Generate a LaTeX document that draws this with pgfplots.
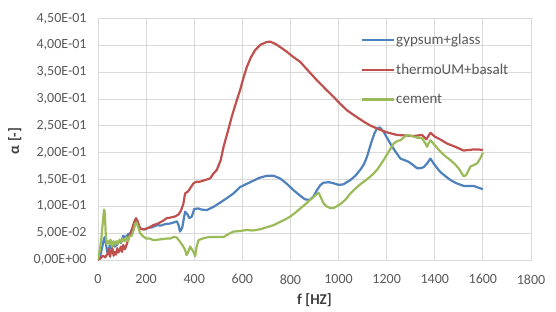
\documentclass[border=0pt]{standalone}
\usepackage{fontspec}
\setmainfont{Carlito}
\usepackage{pgfplots}
\pgfplotsset{compat=1.18}
\definecolor{xblue}{HTML}{4F81BD}
\definecolor{xred}{HTML}{C0504D}
\definecolor{xgreen}{HTML}{9BBB59}
\definecolor{xgrid}{HTML}{D9D9D9}
\definecolor{xtick}{HTML}{595959}
\definecolor{xlab}{HTML}{404040}
\begin{document}
\begin{tikzpicture}[x=1pt,y=1pt]
\useasboundingbox (0,0) rectangle (556,311);
\begin{axis}[
  at={(98pt,51pt)}, anchor=south west,
  scale only axis, width=433pt, height=241.5pt,
  xmin=0, xmax=1800, ymin=0, ymax=0.45,
  xtick={0,200,...,1800},
  ytick={0,0.05,0.1,0.15,0.2,0.25,0.3,0.35,0.4,0.45},
  yticklabels={{0,00E+00},{5,00E-02},{1,00E-01},{1,50E-01},{2,00E-01},{2,50E-01},{3,00E-01},{3,50E-01},{4,00E-01},{4,50E-01}},
  /pgf/number format/assume math mode=true,
  /pgf/number format/set thousands separator={},
  grid=major,
  major grid style={xgrid, line width=0.8pt},
  axis line style={xgrid, line width=0.8pt},
  major tick length=0pt,
  ticklabel style={font=\fontsize{14}{14}\selectfont, text=xtick},
  yticklabel style={xshift=-8pt},
  xticklabel style={yshift=-11pt},
  xlabel={\textbf{f [HZ]}},
  ylabel={\textbf{α [-]}},
  label style={font=\fontsize{15}{15}\selectfont, text=xlab},
  xlabel style={at={(axis description cs:0.5,-0.168)}, anchor=center},
  ylabel style={at={(axis description cs:-0.192,0.493)}, anchor=center},
  legend style={at={(rel axis cs:0.607,0.94)}, anchor=north west, draw=none, fill=none,
    font=\fontsize{15}{15}\selectfont, text=xtick, row sep=16pt, inner sep=0pt,
    nodes={inner sep=1pt}},
  legend cell align=left,
  legend image code/.code={\draw[#1] (0pt,0pt) -- (32pt,0pt);},
  every axis plot/.append style={line width=2.2pt, line join=round, no markers},
]
\addplot[xblue] coordinates {
(0,0) (10,0.008) (18,0.025) (25,0.04) (29,0.043) (33,0.03) (38,0.015) (45,0.02) (50,0.03) (55,0.022) (62,0.03) (70,0.025) (78,0.028) (85,0.035) (95,0.032) (105,0.045) (115,0.042) (125,0.048) (135,0.05) (145,0.06) (155,0.075) (162,0.072) (170,0.062) (180,0.058) (195,0.057) (210,0.06) (225,0.061) (245,0.065) (260,0.064) (280,0.067) (300,0.068) (315,0.07) (328,0.072) (335,0.065) (341,0.053) (350,0.06) (362,0.09) (372,0.085) (380,0.078) (390,0.081) (400,0.095) (417,0.096) (430,0.094) (452,0.093) (480,0.099) (508,0.107) (535,0.115) (563,0.124) (591,0.136) (633,0.145) (670,0.153) (702,0.157) (730,0.157) (757,0.152) (785,0.142) (813,0.13) (840,0.12) (861,0.113) (880,0.112) (895,0.118) (910,0.13) (925,0.14) (937,0.144) (960,0.145) (979,0.143) (1000,0.14) (1020,0.141) (1049,0.149) (1070,0.157) (1090,0.168) (1105,0.178) (1118,0.192) (1130,0.21) (1139,0.223) (1150,0.237) (1160,0.245) (1172,0.247) (1187,0.239) (1200,0.229) (1215,0.217) (1235,0.203) (1257,0.189) (1275,0.186) (1291,0.183) (1310,0.177) (1326,0.171) (1340,0.171) (1354,0.173) (1368,0.18) (1382,0.189) (1395,0.18) (1410,0.171) (1423,0.164) (1445,0.156) (1465,0.149) (1490,0.143) (1520,0.138) (1540,0.138) (1562,0.138) (1580,0.135) (1600,0.132)
};
\addlegendentry{gypsum+glass}
\addplot[xred] coordinates {
(0,0) (10,0.003) (20,0.008) (30,0.005) (40,0.012) (45,0.02) (50,0.006) (55,0.018) (60,0.022) (65,0.008) (70,0.015) (75,0.01) (80,0.022) (85,0.014) (90,0.018) (95,0.025) (100,0.015) (105,0.028) (112,0.02) (120,0.03) (130,0.045) (140,0.055) (150,0.07) (158,0.078) (165,0.072) (175,0.058) (190,0.057) (203,0.059) (215,0.061) (230,0.065) (250,0.068) (270,0.073) (286,0.078) (300,0.079) (320,0.081) (335,0.085) (345,0.092) (355,0.105) (362,0.124) (375,0.128) (385,0.135) (397,0.143) (410,0.146) (424,0.146) (445,0.149) (466,0.152) (480,0.161) (494,0.168) (510,0.186) (522,0.211) (540,0.24) (556,0.267) (575,0.295) (591,0.317) (605,0.34) (619,0.36) (635,0.377) (653,0.391) (675,0.401) (700,0.406) (716,0.407) (740,0.402) (760,0.396) (785,0.388) (810,0.379) (841,0.369) (875,0.352) (910,0.335) (945,0.319) (979,0.304) (1007,0.291) (1035,0.279) (1070,0.268) (1104,0.258) (1130,0.251) (1160,0.245) (1200,0.238) (1243,0.233) (1280,0.232) (1312,0.231) (1347,0.233) (1365,0.225) (1375,0.232) (1382,0.237) (1400,0.23) (1425,0.224) (1451,0.217) (1485,0.211) (1520,0.204) (1540,0.205) (1562,0.206) (1580,0.206) (1600,0.205)
};
\addlegendentry{thermoUM+basalt}
\addplot[xgreen] coordinates {
(0,0) (8,0.02) (15,0.045) (20,0.07) (25,0.094) (28,0.09) (32,0.05) (36,0.03) (42,0.035) (48,0.03) (52,0.038) (58,0.025) (64,0.035) (70,0.028) (76,0.035) (82,0.03) (90,0.038) (97,0.033) (103,0.04) (110,0.035) (118,0.042) (125,0.035) (132,0.045) (140,0.045) (148,0.055) (155,0.068) (160,0.07) (168,0.06) (175,0.05) (185,0.045) (200,0.04) (215,0.04) (230,0.037) (250,0.038) (270,0.039) (286,0.04) (300,0.04) (315,0.043) (327,0.042) (341,0.034) (352,0.027) (362,0.019) (368,0.009) (375,0.015) (383,0.025) (390,0.02) (397,0.015) (404,0.007) (410,0.025) (418,0.037) (435,0.04) (452,0.042) (466,0.043) (490,0.043) (522,0.043) (545,0.049) (563,0.053) (590,0.054) (619,0.056) (640,0.055) (660,0.056) (680,0.058) (702,0.061) (730,0.065) (757,0.071) (780,0.076) (799,0.081) (820,0.088) (841,0.096) (862,0.104) (882,0.112) (900,0.119) (910,0.123) (917,0.125) (925,0.118) (937,0.106) (950,0.1) (965,0.097) (980,0.097) (1007,0.104) (1030,0.113) (1049,0.124) (1070,0.133) (1090,0.141) (1120,0.151) (1146,0.161) (1165,0.171) (1187,0.186) (1210,0.203) (1229,0.217) (1245,0.222) (1257,0.223) (1270,0.228) (1284,0.233) (1305,0.231) (1326,0.228) (1347,0.227) (1360,0.218) (1368,0.211) (1375,0.218) (1382,0.223) (1400,0.214) (1423,0.202) (1445,0.193) (1465,0.186) (1485,0.178) (1499,0.171) (1510,0.163) (1520,0.156) (1530,0.158) (1548,0.174) (1562,0.177) (1576,0.180) (1590,0.19) (1600,0.2)
};
\addlegendentry{cement}
\end{axis}
\end{tikzpicture}
\end{document}
